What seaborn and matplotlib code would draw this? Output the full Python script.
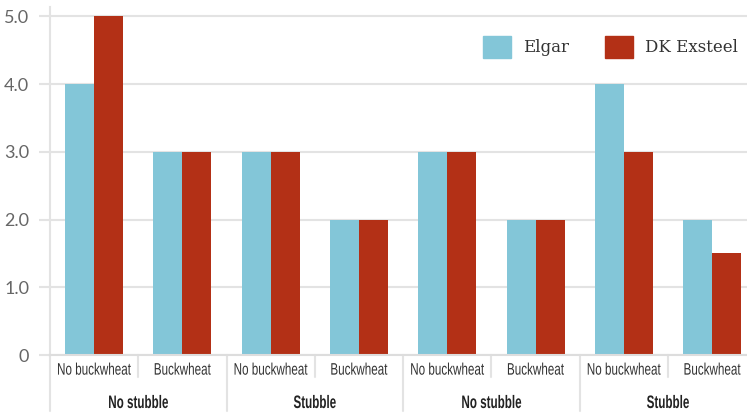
import matplotlib
matplotlib.use('Agg')
import matplotlib.pyplot as plt
import matplotlib.transforms as mtransforms
import matplotlib.patheffects as pe
import pandas as pd
import seaborn as sns

stubble = ['No stubble', 'Stubble', 'No stubble', 'Stubble']
buckwheat = ['No buckwheat', 'Buckwheat']
elgar = [4, 3, 3, 2, 3, 2, 4, 2]
dk_exsteel = [5, 3, 3, 2, 3, 2, 3, 1.5]
varieties = ['Elgar', 'DK Exsteel']
colors = {'Elgar': '#83C6D8', 'DK Exsteel': '#B33016'}

inner_labels = [b for s in stubble for b in buckwheat]
keys = [f'{i}' for i in range(len(inner_labels))]

df = pd.DataFrame({
    'cell': keys * 2,
    'variety': ['Elgar'] * len(keys) + ['DK Exsteel'] * len(keys),
    'value': elgar + dk_exsteel,
})


class Condense(pe.AbstractPathEffect):
    """squeeze text horizontally about its own centre (no condensed font installed)"""

    def __init__(self, sx):
        super().__init__()
        self.sx = sx

    def draw_path(self, renderer, gc, tpath, affine, rgbFace=None):
        verts = tpath.vertices
        cx = (verts[:, 0].min() + verts[:, 0].max()) / 2 if len(verts) else 0
        squeeze = mtransforms.Affine2D().translate(-cx, 0).scale(self.sx, 1).translate(cx, 0)
        renderer.draw_path(gc, tpath, squeeze + affine, rgbFace)


sns.set_style('white')
sans = ['Liberation Sans', 'DejaVu Sans']

fig = plt.figure(figsize=(7.47, 4.13), dpi=100)
ax = fig.add_axes([50 / 747, 58 / 413, 697 / 747, 348 / 413])

sns.barplot(data=df, x='cell', y='value', hue='variety', order=keys,
            hue_order=varieties, palette=colors, width=0.657, gap=0,
            saturation=1, edgecolor='none', linewidth=0, legend=False, ax=ax)

ax.set_xlim(-0.5, 7.394)
ax.set_ylim(0, 5.14)
ax.set_yticks(range(6))
ax.set_yticklabels(['0' if v == 0 else f'{v:.1f}' for v in range(6)],
                   fontsize=13, color='#666666', family=['Lato', 'DejaVu Sans'])
ax.yaxis.grid(True, color='#e3e3e3', linewidth=1.5)
ax.set_axisbelow(True)
ax.tick_params(axis='y', length=8, width=1.5, color='#e3e3e3', pad=7, left=True)

ax.set_xticks(range(len(keys)))
ax.set_xticklabels(inner_labels, fontsize=12, color='#333333', family=sans)
for t in ax.get_xticklabels():
    t.set_path_effects([Condense(0.70)])
ax.tick_params(axis='x', length=0, pad=5.5)
ax.set_xlabel('')
ax.set_ylabel('')

for side in ['top', 'right']:
    ax.spines[side].set_visible(False)
ax.spines['left'].set_color('#e3e3e3')
ax.spines['left'].set_linewidth(1.5)
ax.spines['bottom'].set_color('#dddddd')
ax.spines['bottom'].set_linewidth(1.5)

trans = mtransforms.blended_transform_factory(ax.transData, ax.transAxes)
for i in range(len(keys)):
    x = i - 0.5
    low = -0.16 if i % 2 == 0 else -0.063
    ax.plot([x, x], [0, low], transform=trans, color='#e3e3e3', linewidth=1.5,
            clip_on=False)

for j, s in enumerate(stubble):
    ax.text(2 * j + 0.5, -53 / 348, s, transform=trans, ha='center', va='baseline',
            fontsize=13, fontweight='bold', color='#222222', family=sans,
            path_effects=[Condense(0.645)])

handles = [plt.Rectangle((0, 0), 1, 1, color=colors[v]) for v in varieties]
fig.legend(handles, varieties, loc='center right', bbox_to_anchor=(738 / 747, 1 - 47 / 413),
           ncol=2, frameon=False, handlelength=1.68, handleheight=1.68,
           handletextpad=0.72, columnspacing=2.15, borderpad=0, borderaxespad=0,
           prop={'family': ['DejaVu Serif'], 'size': 12})
for t in fig.legends[0].get_texts():
    t.set_color('#333333')

fig.savefig('out.png', dpi=100)
